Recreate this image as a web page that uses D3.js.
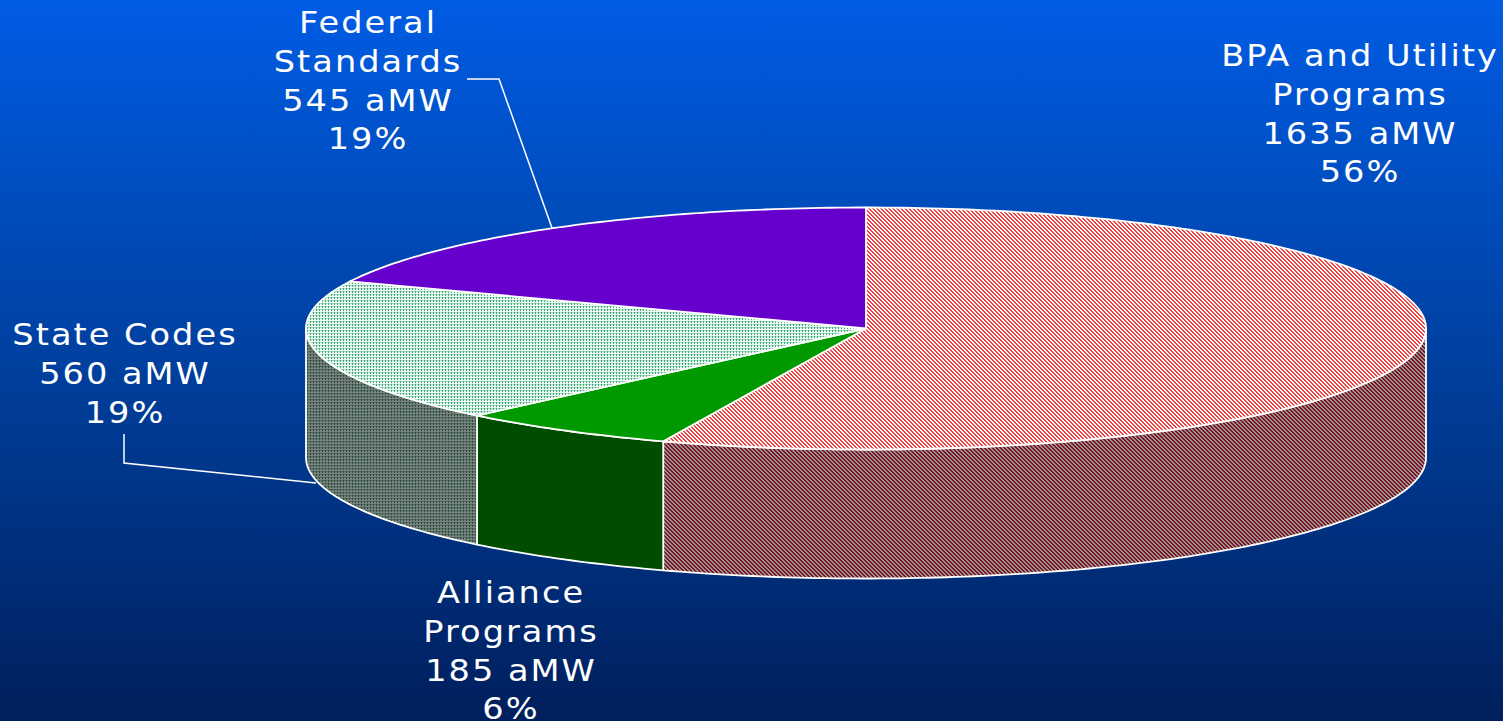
<!DOCTYPE html>
<html>
<head>
<meta charset="utf-8">
<script src="https://cdn.jsdelivr.net/npm/d3@7"></script>
<style>
html, body { margin: 0; padding: 0; background: #00205f; overflow: hidden; }
text { font-family: "DejaVu Sans", sans-serif; font-size: 30px; fill: #fff; text-anchor: middle; letter-spacing: 1.8px; }
</style>
</head>
<body>
<svg id="chart"></svg>
<script>
const width = 1503;
const height = 721;

const categories = ["BPA and Utility Programs", "Alliance Programs", "State Codes", "Federal Standards"];
const values = [1635, 185, 560, 545];
const percents = ["56%", "6%", "19%", "19%"];
const topColors = ["url(#hatchTop)", "#009900", "url(#dotsTop)", "#6600cc"];
const sideColors = ["url(#hatchSide)", "#004d00", "url(#dotsSide)", "#330066"];

// label text, one array per line break
const labelLines = [
    ["BPA and Utility", "Programs", "1635 aMW", "56%"],
    ["Alliance", "Programs", "185 aMW", "6%"],
    ["State Codes", "560 aMW", "19%"],
    ["Federal", "Standards", "545 aMW", "19%"]
];
const labelX = [1360, 511, 125, 368];
const labelY = [66, 603, 345, 33];
const lineGap = 38.8;

const cx = 866, cy = 328.5, rx = 560, ry = 121, depth = 129;

const svg = d3.select("#chart")
    .attr("width", width)
    .attr("height", height)
    .style("display", "block");

const defs = svg.append("defs");

const grad = defs.append("linearGradient")
    .attr("id", "bg")
    .attr("x1", 0).attr("y1", 0).attr("x2", 0).attr("y2", 1);
grad.append("stop").attr("offset", "0%").attr("stop-color", "#005ce4");
grad.append("stop").attr("offset", "50%").attr("stop-color", "#00409f");
grad.append("stop").attr("offset", "100%").attr("stop-color", "#001f5c");

// stair step hatch, pixel aligned
function hatch(id, back, front) {
    const p = defs.append("pattern")
        .attr("id", id)
        .attr("patternUnits", "userSpaceOnUse")
        .attr("width", 4).attr("height", 4)
        .attr("shape-rendering", "crispEdges");
    p.append("rect").attr("width", 4).attr("height", 4).attr("fill", back);
    d3.range(4).forEach(i => {
        p.append("rect").attr("x", i).attr("y", i).attr("width", 1).attr("height", 1).attr("fill", front);
        p.append("rect").attr("x", (i + 1) % 4).attr("y", i).attr("width", 1).attr("height", 1).attr("fill", front);
    });
}
// small grid of dots
function dots(id, back, soft, front) {
    const p = defs.append("pattern")
        .attr("id", id)
        .attr("patternUnits", "userSpaceOnUse")
        .attr("width", 3).attr("height", 3)
        .attr("shape-rendering", "crispEdges");
    p.append("rect").attr("width", 3).attr("height", 3).attr("fill", back);
    p.append("rect").attr("x", 0).attr("y", 0).attr("width", 3).attr("height", 1).attr("fill", soft);
    p.append("rect").attr("x", 1).attr("y", 0).attr("width", 1).attr("height", 2).attr("fill", front);
}
hatch("hatchTop", "#ffffff", "#f04040");
hatch("hatchSide", "#9a9292", "#7a1420");
dots("dotsTop", "#eef9f3", "#a6dcc2", "#3fa878");
dots("dotsSide", "#7c807e", "#566a60", "#1f5240");

svg.append("rect").attr("width", width).attr("height", height).attr("fill", "url(#bg)");

const pie = d3.pie().sort(null).value(d => d);
const slices = pie(values);

// pie angle is measured clockwise from 12 o'clock, squashed into the ellipse
const px = a => cx + rx * Math.sin(a);
const py = a => cy - ry * Math.cos(a);

function rim(a0, a1, dy) {
    const n = Math.max(2, Math.ceil((a1 - a0) * 60));
    return d3.range(n + 1).map(i => {
        const a = a0 + (a1 - a0) * i / n;
        return [px(a), py(a) + dy];
    });
}

const line = d3.line();

// walls: only the front half of the ellipse shows
const wallData = slices.map((s, i) => ({
    a0: Math.max(s.startAngle, Math.PI / 2),
    a1: Math.min(s.endAngle, Math.PI * 1.5),
    i: i
})).filter(d => d.a1 > d.a0);

svg.selectAll(".wall")
    .data(wallData)
    .enter().append("path")
    .attr("class", "wall")
    .attr("d", d => line(rim(d.a0, d.a1, 0).concat(rim(d.a0, d.a1, depth).reverse())) + "Z")
    .attr("fill", d => sideColors[d.i])
    .attr("stroke", "#fff")
    .attr("stroke-width", 1.8)
    .attr("stroke-linejoin", "round");

svg.selectAll(".slice")
    .data(slices)
    .enter().append("path")
    .attr("class", "slice")
    .attr("d", d => line([[cx, cy]].concat(rim(d.startAngle, d.endAngle, 0))) + "Z")
    .attr("fill", (d, i) => topColors[i])
    .attr("stroke", "#fff")
    .attr("stroke-width", 1.8)
    .attr("stroke-linejoin", "round");

// leader lines
const leaders = [
    [[467, 79], [499, 79], [552, 228]],
    [[124, 434], [124, 463], [316, 483]]
];
svg.selectAll(".leader")
    .data(leaders)
    .enter().append("path")
    .attr("class", "leader")
    .attr("d", line)
    .attr("fill", "none")
    .attr("stroke", "#fff")
    .attr("stroke-width", 1.5);

// glyphs in the picture are wider than DejaVu, so stretch x a little
const labels = svg.selectAll(".label")
    .data(labelLines)
    .enter().append("text")
    .attr("class", "label")
    .attr("transform", (d, i) => `translate(${labelX[i]},${labelY[i]}) scale(1.12,1)`);

labels.selectAll("tspan")
    .data(d => d)
    .enter().append("tspan")
    .attr("x", 0)
    .attr("y", (d, i) => i * lineGap)
    .text(d => d);
</script>
</body>
</html>
